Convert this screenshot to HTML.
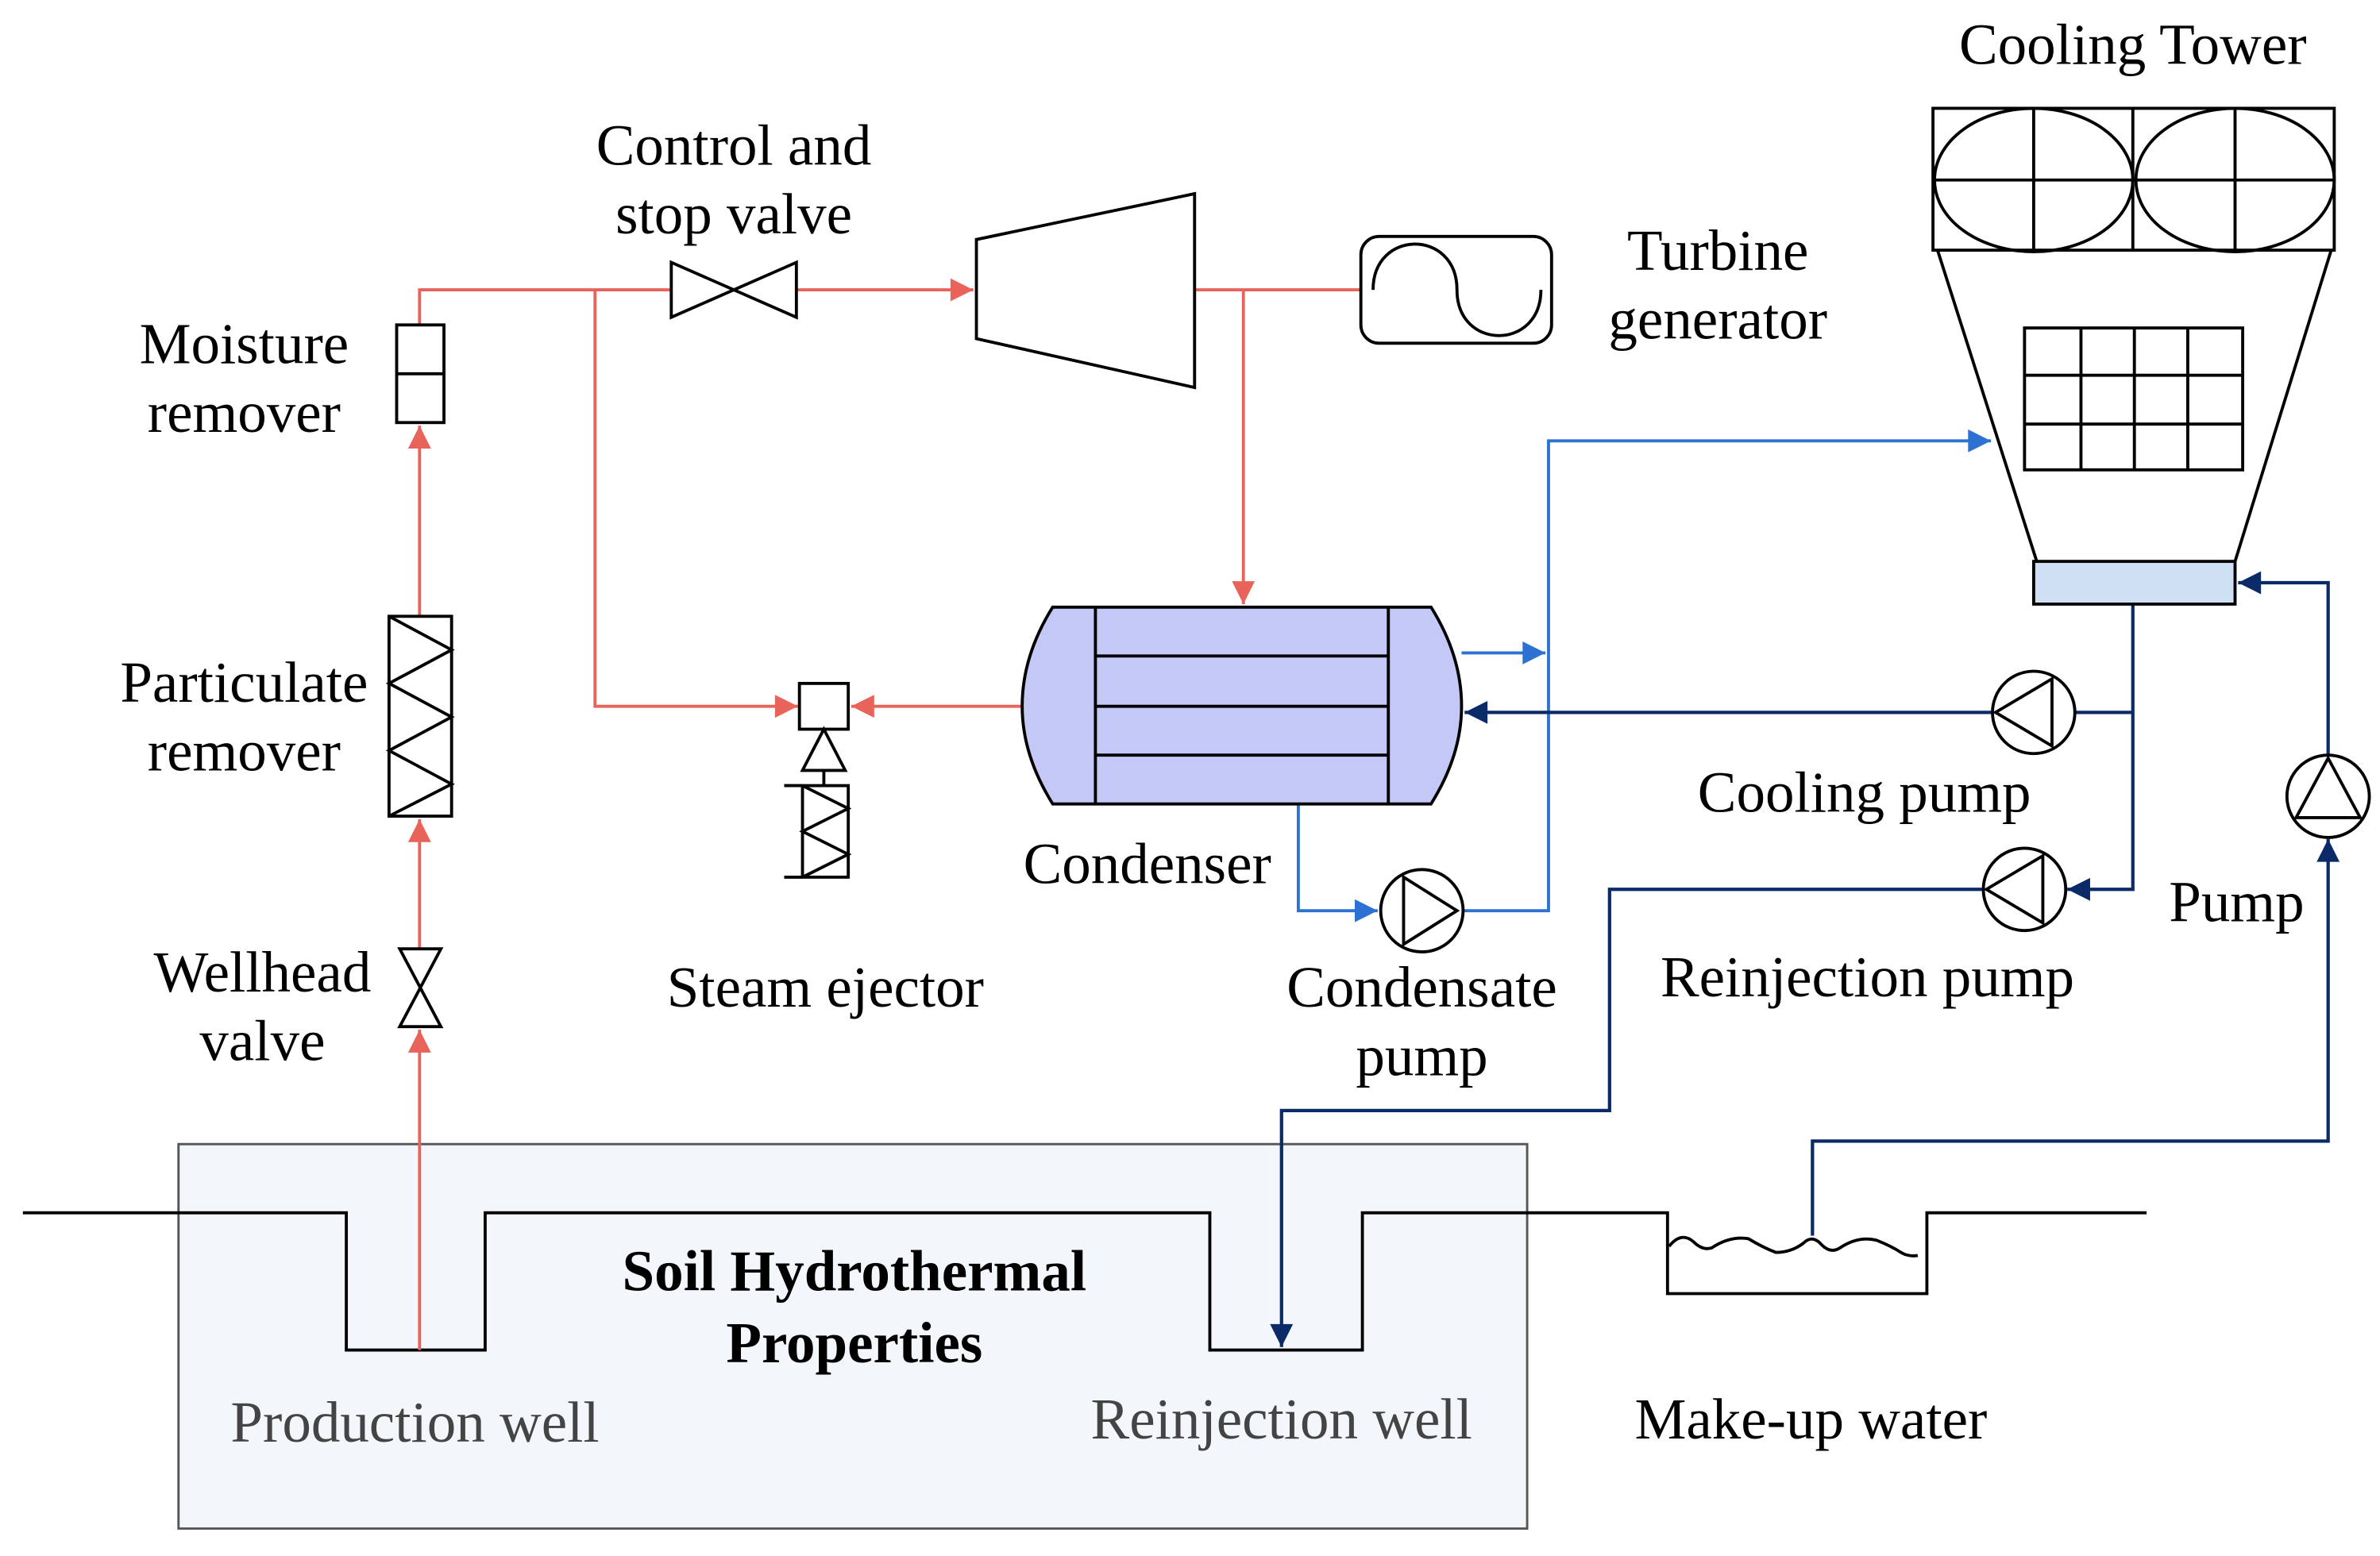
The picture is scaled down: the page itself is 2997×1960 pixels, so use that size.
<!DOCTYPE html>
<html><head><meta charset="utf-8"><style>
html,body{margin:0;padding:0;background:#fff}
svg{display:block}
text{font-family:"Liberation Serif",serif;font-size:38px;fill:#000;text-anchor:middle}
</style></head><body>
<svg width="2997" height="1960" viewBox="0 0 1560 1020" preserveAspectRatio="none" xmlns="http://www.w3.org/2000/svg">
<defs>
<marker id="ar" viewBox="0 0 10 10" refX="10" refY="5" markerWidth="20" markerHeight="15" markerUnits="userSpaceOnUse" orient="auto"><path d="M0,0L10,5L0,10z" fill="#e8635a"/></marker>
<marker id="ab" viewBox="0 0 10 10" refX="10" refY="5" markerWidth="20" markerHeight="15" markerUnits="userSpaceOnUse" orient="auto"><path d="M0,0L10,5L0,10z" fill="#2d72d2"/></marker>
<marker id="an" viewBox="0 0 10 10" refX="10" refY="5" markerWidth="20" markerHeight="15" markerUnits="userSpaceOnUse" orient="auto"><path d="M0,0L10,5L0,10z" fill="#0b2a68"/></marker>
</defs>
<style>
.r{stroke:#e8635a;stroke-width:2;fill:none}
.b{stroke:#2d72d2;stroke-width:2;fill:none}
.n{stroke:#0b2a68;stroke-width:2.2;fill:none}
.k{stroke:#000;stroke-width:2;fill:none}
.w{fill:#fff}
</style>
<!-- soil box -->
<rect x="117" y="750" width="884" height="252" style="fill:#f3f7fc;stroke:#555;stroke-width:1.5"/>
<!-- ground -->
<path class="k" d="M15,795H227V885H318V795H793V885H893V795H1093V848H1263V795H1407"/>
<path class="k" d="M1094,817 q8,-10 16,-3 q6,6 12,4 q12,-8 24,-6 q10,6 18,9 q10,0 18,-6 q6,-6 12,1 q6,6 12,2 q12,-8 24,-5 q10,4 16,8 q5,3 11,2"/>
<!-- red lines -->
<path class="r" d="M275,213V190H440"/>
<path class="r" d="M522,190H638" marker-end="url(#ar)"/>
<path class="r" d="M390,190V463H523" marker-end="url(#ar)"/>
<path class="r" d="M670,463H558" marker-end="url(#ar)"/>
<path class="r" d="M783,190H892"/>
<path class="r" d="M815,190V396" marker-end="url(#ar)"/>
<path class="r" d="M275,404V279" marker-end="url(#ar)"/>
<path class="r" d="M275,622V537" marker-end="url(#ar)"/>
<path class="r" d="M275,885V675" marker-end="url(#ar)"/>
<!-- blue lines -->
<path class="b" d="M958,428H1013" marker-end="url(#ab)"/>
<path class="b" d="M959,597H1015V289H1305" marker-end="url(#ab)"/>
<path class="b" d="M851,527V597H903" marker-end="url(#ab)"/>
<!-- navy lines -->
<path class="n" d="M1398,396V583H1355" marker-end="url(#an)"/>
<path class="n" d="M1398,467H1360"/>
<path class="n" d="M1306,467H960" marker-end="url(#an)"/>
<path class="n" d="M1300,583H1055V728H840V883" marker-end="url(#an)"/>
<path class="n" d="M1188,810V748H1526V550" marker-end="url(#an)"/>
<path class="n" d="M1526,495V382H1467" marker-end="url(#an)"/>
<!-- valve -->
<path class="k w" style="fill:#fff" d="M440,172V208L522,172V208Z"/>
<!-- turbine -->
<polygon class="k" style="fill:#fff" points="640,157 783,127 783,254 640,222"/>
<!-- generator -->
<rect class="k" style="fill:#fff" x="892" y="155" width="125" height="70" rx="12"/>
<path class="k" d="M900,190 C900,150 955,150 955,190 C955,230 1010,230 1010,190"/>
<!-- moisture remover -->
<rect class="k" style="fill:#fff" x="260" y="213" width="31" height="64"/><path class="k" d="M260,245H291"/>
<!-- particulate remover -->
<rect class="k" style="fill:#fff" x="255" y="404" width="41" height="131"/>
<path class="k" d="M255,404L296,426L255,448L296,470L255,492L296,514L255,535"/>
<!-- wellhead valve -->
<path class="k" style="fill:#fff" d="M262,622H289L262,673H289Z"/>
<!-- ejector -->
<rect class="k" style="fill:#fff" x="524" y="448" width="32" height="30"/>
<path class="k" d="M540,478L526,505H554Z M540,505V515"/>
<rect class="k" style="fill:#fff" x="526" y="515" width="30" height="60"/>
<path class="k" d="M514,515H526 M514,575H526 M526,515L556,530L526,545L556,560L526,575"/>
<!-- condenser -->
<path class="k" style="fill:#c3c8f7" d="M690,398H938Q958,430 958,463Q958,495 938,527H690Q670,495 670,463Q670,430 690,398Z"/>
<path class="k" d="M718,398V527M910,398V527M718,430H910M718,463H910M718,495H910"/>
<!-- pumps -->
<circle class="k" style="fill:#fff" cx="932" cy="597" r="27"/><path class="k" d="M920,575L955,597L920,619Z"/>
<circle class="k" style="fill:#fff" cx="1333" cy="467" r="27"/><path class="k" d="M1345,445L1308,467L1345,489Z"/>
<circle class="k" style="fill:#fff" cx="1327" cy="583" r="27"/><path class="k" d="M1339,561L1302,583L1339,605Z"/>
<circle class="k" style="fill:#fff" cx="1526" cy="522" r="27"/><path class="k" d="M1526,497L1505,536H1547Z"/>
<!-- cooling tower -->
<rect class="k" style="fill:#fff" x="1267" y="71" width="263" height="93"/>
<ellipse class="k" cx="1333" cy="118" rx="65" ry="47"/><ellipse class="k" cx="1465" cy="118" rx="65" ry="47"/>
<path class="k" d="M1333,71V164M1398,71V164M1465,71V164M1267,118H1530"/>
<path class="k" d="M1270,164L1335,368M1528,164L1465,368"/>
<rect class="k" x="1327" y="215" width="143" height="93"/>
<path class="k" d="M1364,215V308M1399,215V308M1434,215V308M1327,246H1470M1327,278H1470"/>
<rect class="k" style="fill:#cfe0f5" x="1333" y="368" width="132" height="28"/>
<!-- labels -->
<text x="1398" y="42">Cooling Tower</text>
<text x="481" y="108">Control and</text>
<text x="481" y="153">stop valve</text>
<text x="160" y="238">Moisture</text>
<text x="160" y="283">remover</text>
<text x="160" y="460">Particulate</text>
<text x="160" y="505">remover</text>
<text x="172" y="650">Wellhead</text>
<text x="172" y="695">valve</text>
<text x="541" y="660">Steam ejector</text>
<text x="752" y="579">Condenser</text>
<text x="932" y="660">Condensate</text>
<text x="932" y="705">pump</text>
<text x="1222" y="532">Cooling pump</text>
<text x="1224" y="653">Reinjection pump</text>
<text x="1466" y="604">Pump</text>
<text x="1126" y="177">Turbine</text>
<text x="1126" y="222">generator</text>
<text x="560" y="846" font-weight="bold">Soil Hydrothermal</text>
<text x="560" y="893" font-weight="bold">Properties</text>
<text x="272" y="945" style="fill:#444">Production well</text>
<text x="840" y="943" style="fill:#444">Reinjection well</text>
<text x="1187" y="943">Make-up water</text>
</svg>
</body></html>
